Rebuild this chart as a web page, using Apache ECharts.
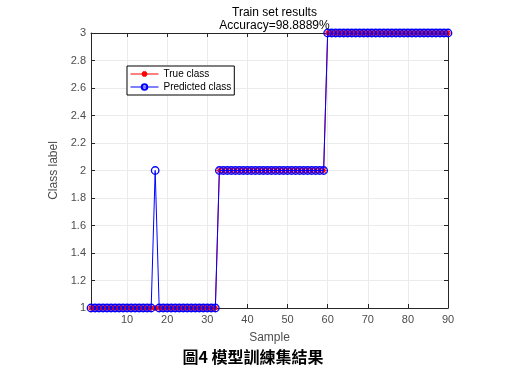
<!DOCTYPE html>
<html><head><meta charset="utf-8">
<script src="https://cdn.jsdelivr.net/npm/echarts@6/dist/echarts.min.js"></script>
<style>body{margin:0;background:#fff}#c{width:516px;height:379px}</style></head>
<body><div id="c"></div>
<script>
const samples = [1,2,3,4,5,6,7,8,9,10,11,12,13,14,15,16,17,18,19,20,21,22,23,24,25,26,27,28,29,30,
31,32,33,34,35,36,37,38,39,40,41,42,43,44,45,46,47,48,49,50,51,52,53,54,55,56,57,58,59,60,
61,62,63,64,65,66,67,68,69,70,71,72,73,74,75,76,77,78,79,80,81,82,83,84,85,86,87,88,89,90];
const trueClass = [1,1,1,1,1,1,1,1,1,1,1,1,1,1,1,1,1,1,1,1,1,1,1,1,1,1,1,1,1,1,
1,1,2,2,2,2,2,2,2,2,2,2,2,2,2,2,2,2,2,2,2,2,2,2,2,2,2,2,2,3,
3,3,3,3,3,3,3,3,3,3,3,3,3,3,3,3,3,3,3,3,3,3,3,3,3,3,3,3,3,3];
const predClass = [1,1,1,1,1,1,1,1,1,1,1,1,1,1,1,1,2,1,1,1,1,1,1,1,1,1,1,1,1,1,
1,1,2,2,2,2,2,2,2,2,2,2,2,2,2,2,2,2,2,2,2,2,2,2,2,2,2,2,2,3,
3,3,3,3,3,3,3,3,3,3,3,3,3,3,3,3,3,3,3,3,3,3,3,3,3,3,3,3,3,3];
const xTicks = [10,20,30,40,50,60,70,80,90];
const titleLines = ['Train set results','Accuracy=98.8889%'];
const seriesNames = ['True class','Predicted class'];
const caption = '圖4 模型訓練集結果';

const font = 'Liberation Sans, Arial, sans-serif';
const axisCol = '#262626';
const labelCol = '#4d4d4d';
const gridCol = '#ebebeb';
const asterisk = 'path://M5,0L5,10M0,5L10,5M1.5,1.5L8.5,8.5M8.5,1.5L1.5,8.5';

const chart = echarts.init(document.getElementById('c'), null, {renderer:'canvas'});
const pair = arr => samples.map((s,i)=>[s,arr[i]]);
const tickCommon = {inside:true, length:4, lineStyle:{color:axisCol}};
chart.setOption({
  animation:false,
  backgroundColor:'#fff',
  title:{text:titleLines.join('\n'), left:269.5, textAlign:'center', top:1,
    textStyle:{fontFamily:font, fontSize:12, fontWeight:'normal', color:'#000', lineHeight:13}},
  grid:{left:91, right:68, top:33, bottom:71, containLabel:false},
  legend:{orient:'vertical', left:127, top:66, itemWidth:28, itemHeight:7, itemGap:3,
    padding:[3,3,3,3], borderColor:'#000', borderWidth:1, backgroundColor:'#fff',
    lineStyle:{width:1},
    textStyle:{fontFamily:font, fontSize:10, color:'#000'},
    data:seriesNames},
  xAxis:[{type:'value', min:1, max:90, name:'Sample', nameLocation:'middle', nameGap:24,
    nameTextStyle:{fontFamily:font, fontSize:12, color:labelCol},
    axisLine:{lineStyle:{color:axisCol}},
    axisTick:{...tickCommon, customValues:xTicks},
    axisLabel:{fontFamily:font, fontSize:11, color:labelCol, customValues:xTicks, margin:6},
    splitLine:{show:true, lineStyle:{color:gridCol, width:1}}},
   {type:'value', min:1, max:90, position:'top',
    axisLine:{lineStyle:{color:axisCol}},
    axisTick:{...tickCommon, customValues:xTicks},
    axisLabel:{show:false, customValues:xTicks}, splitLine:{show:false}}],
  yAxis:[{type:'value', min:1, max:3, interval:0.2, name:'Class label', nameLocation:'middle', nameGap:27,
    nameTextStyle:{fontFamily:font, fontSize:12, color:labelCol},
    axisLine:{show:true, lineStyle:{color:axisCol}},
    axisTick:{show:true, ...tickCommon},
    axisLabel:{fontFamily:font, fontSize:11, color:labelCol, margin:5,
      formatter:v=>String(Math.round(v*10)/10)},
    splitLine:{show:true, lineStyle:{color:gridCol, width:1}}},
   {type:'value', min:1, max:3, interval:0.2, position:'right',
    axisLine:{show:true, lineStyle:{color:axisCol}},
    axisTick:{show:true, ...tickCommon},
    axisLabel:{show:false}, splitLine:{show:false}}],
  series:[
    {name:seriesNames[0], type:'line', data:pair(trueClass), symbol:asterisk, symbolSize:6,
      showAllSymbol:true, lineStyle:{color:'#ff0000', width:1},
      itemStyle:{color:'#ff0000', borderColor:'#ff0000', borderWidth:1.2}, z:2},
    {name:seriesNames[1], type:'line', data:pair(predClass), symbol:'circle', symbolSize:7.5,
      showAllSymbol:true, lineStyle:{color:'#0000ff', width:1},
      itemStyle:{color:'rgba(0,0,0,0)', borderColor:'#0000ff', borderWidth:1.3}, z:3}
  ],
  graphic:[{type:'text', x:253, y:349, style:{text:caption, align:'center', textAlign:'center',
    font:'bold 16px "Noto Sans CJK TC", sans-serif', fill:'#000'}}]
});
</script></body></html>
